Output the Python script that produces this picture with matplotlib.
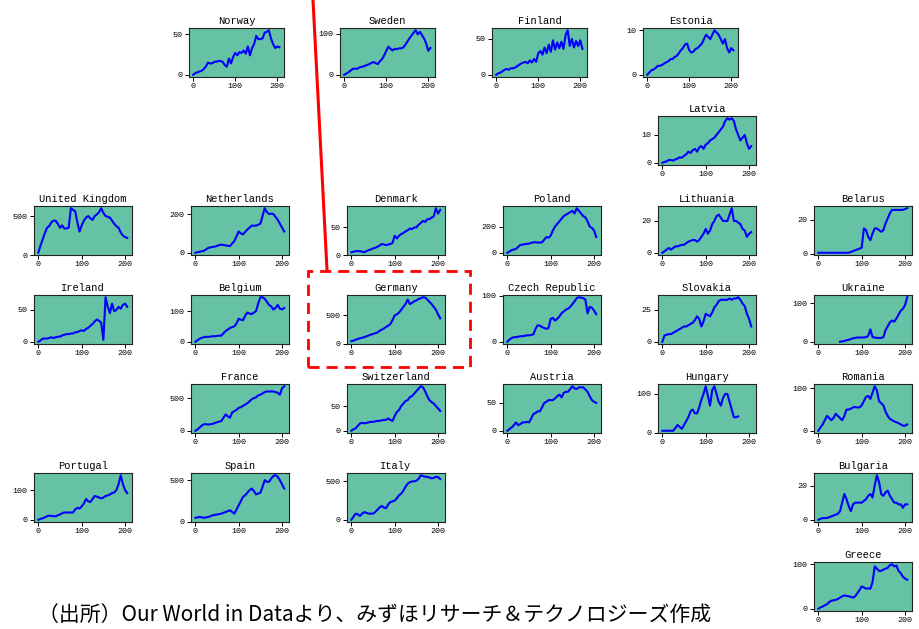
import numpy as np
import matplotlib
matplotlib.use("Agg")
import matplotlib.pyplot as plt
from matplotlib.lines import Line2D
from matplotlib.patches import Rectangle

nan = np.nan

# day index (x axis), sampled every 5 days
days = list(range(0, 206, 5))

norway = [0, 2, 3, 4, 5, 7, 10, 15, 14, 14, 16, 16, 17, 17, 16, 12, 10, 20, 14, 22, 27,
          24, 28, 27, 30, 26, 35, 24, 33, 38, 48, 44, 44, 45, 52, 53, 55, 45, 38, 33, 35, 34]
sweden = [0, 3, 6, 10, 14, 15, 14, 17, 19, 20, 22, 24, 26, 29, 31, 28, 26, 33, 38, 47, 58,
          68, 63, 59, 63, 62, 64, 64, 66, 72, 80, 88, 95, 102, 108, 98, 104, 96, 88, 76, 58, 65]
finland = [0, 2, 3, 5, 7, 8, 7, 9, 9, 10, 12, 14, 16, 17, 18, 16, 20, 17, 22, 18, 30,
           33, 28, 38, 30, 42, 32, 48, 35, 45, 37, 46, 36, 55, 62, 40, 50, 38, 47, 40, 48, 36]
estonia = [0, 0.5, 1, 1.2, 1.5, 2, 2, 2.2, 2.5, 2.8, 3, 3.5, 3.5, 4, 4.2, 4.8, 5.5, 6, 6.8, 7, 5.5,
           5, 5.2, 5.8, 6, 6.5, 7, 8, 9, 8.5, 8, 9, 10, 9.5, 9, 8, 7, 8, 6, 5, 6, 5.5]
latvia = [0, 0.3, 0.5, 1, 1, 0.8, 1.2, 1.5, 2, 1.8, 2.5, 3, 4, 3.5, 4.5, 5, 4, 5.5, 6, 5, 6.5,
          7, 8, 8.5, 9, 10, 11, 12, 13, 15, 16, 15.5, 16, 15, 12, 10, 8, 9, 10, 7, 5, 6]
uk = [30, 120, 200, 280, 350, 370, 420, 440, 440, 400, 350, 380, 340, 340, 350, 600, 580, 560, 420, 300, 380,
      440, 480, 500, 470, 450, 500, 520, 550, 600, 540, 500, 490, 480, 440, 400, 370, 350, 290, 250, 230, 220]
netherlands = [0, 3, 5, 8, 10, 18, 25, 28, 30, 32, 35, 40, 42, 40, 38, 36, 35, 48, 60, 85, 110,
               100, 95, 108, 120, 130, 140, 140, 140, 145, 150, 190, 230, 210, 200, 202, 200, 185, 170, 150, 130, 110]
denmark = [5, 6, 7, 7, 7, 6, 5, 7, 9, 10, 12, 13, 15, 17, 20, 19, 18, 19, 20, 22, 35,
           30, 35, 38, 40, 43, 45, 48, 47, 50, 50, 55, 58, 62, 60, 65, 65, 68, 70, 85, 75, 82]
poland = [0, 10, 20, 25, 30, 45, 60, 62, 65, 68, 70, 75, 80, 80, 78, 78, 80, 100, 120, 115, 130,
          170, 200, 220, 240, 260, 280, 290, 300, 310, 320, 300, 340, 320, 300, 280, 270, 240, 200, 190, 170, 120]
lithuania = [0, 1, 2, 3, 2, 3, 4, 4, 4.5, 5, 5, 6, 7, 7.5, 8, 8, 7, 8, 10, 12, 15,
             12, 14, 18, 20, 23, 24, 22, 20, 20, 20, 24, 28, 20, 20, 19, 18, 15, 14, 10, 12, 13]
belarus = [0.5, 0.5, 0.5, 0.5, 0.5, 0.5, 0.5, 0.5, 0.5, 0.5, 0.5, 0.5, 0.5, 0.5, 0.5, 1, 1.5, 2, 2.5, 3, 3.5,
           15, 14, 10, 8, 12, 15, 15, 14, 13, 14, 18, 21, 24, 26, 26, 26, 26, 26, 26, 26.5, 27]
ireland = [0, 2, 5, 5, 5, 6, 7, 6, 7, 8, 8, 10, 11, 12, 12, 13, 13, 15, 15, 17, 18,
           17, 20, 22, 25, 28, 32, 35, 33, 30, 3, 70, 55, 45, 60, 48, 50, 55, 52, 58, 60, 55]
belgium = [0, 5, 10, 13, 15, 16, 16, 17, 18, 18, 19, 20, 20, 28, 35, 40, 45, 48, 50, 60, 75,
           72, 70, 85, 95, 92, 90, 95, 100, 125, 145, 145, 140, 130, 120, 115, 105, 110, 120, 108, 105, 110]
germany = [50, 60, 75, 90, 100, 110, 120, 135, 150, 165, 175, 190, 200, 230, 250, 270, 300, 320, 350, 420, 500,
           520, 550, 600, 650, 700, 780, 700, 720, 750, 760, 790, 800, 820, 815, 780, 740, 700, 650, 600, 520, 450]
czech = [0, 5, 8, 10, 10, 11, 12, 12, 13, 14, 14, 15, 16, 28, 36, 35, 32, 30, 28, 30, 50,
         52, 46, 50, 55, 62, 66, 70, 72, 76, 82, 88, 95, 97, 96, 95, 92, 62, 76, 74, 68, 60]
slovakia = [0, 5, 5.5, 6, 6, 7, 8, 9, 10, 11, 12, 12, 13, 14, 15, 17, 20, 18, 12, 16, 22,
            21, 20, 23, 27, 29, 32, 33, 33, 33, 33, 34, 33, 34, 34, 35, 33, 30, 28, 22, 18, 12]
ukraine = [nan, nan, nan, nan, nan, nan, nan, nan, nan, nan, 0, 1, 2, 4, 5, 7, 9, 10, 11, 11, 11,
           11, 12, 15, 32, 12, 11, 10, 10, 10, 12, 30, 40, 50, 55, 52, 60, 70, 80, 85, 95, 115]
france = [0, 20, 50, 80, 100, 100, 95, 100, 105, 120, 130, 140, 150, 200, 250, 220, 200, 280, 300, 320, 350,
          360, 380, 400, 420, 450, 480, 500, 510, 540, 550, 570, 590, 600, 600, 600, 600, 590, 580, 550, 650, 680]
switzerland = [0, 3, 5, 10, 15, 16, 15, 16, 17, 18, 18, 19, 20, 20, 21, 22, 22, 25, 22, 20, 30,
               38, 42, 50, 55, 60, 62, 68, 70, 75, 80, 85, 90, 88, 80, 70, 62, 58, 55, 50, 45, 40]
austria = [0, 3, 6, 10, 15, 10, 12, 15, 15, 16, 15, 22, 30, 32, 35, 35, 42, 50, 52, 55, 55,
           55, 58, 62, 65, 60, 68, 70, 70, 75, 80, 76, 75, 78, 78, 78, 74, 70, 62, 55, 52, 50]
hungary = [5, 5, 5, 5, 5, 5, 12, 20, 15, 10, 20, 30, 40, 55, 60, 50, 50, 65, 85, 100, 120,
           95, 70, 110, 120, 100, 80, 70, 90, 100, 100, 80, 60, 40, 40, 42, nan, nan, nan, nan, nan, nan]
romania = [0, 8, 15, 25, 35, 30, 25, 30, 40, 35, 30, 25, 35, 50, 50, 52, 55, 56, 55, 55, 60,
           70, 80, 82, 75, 90, 105, 95, 70, 65, 60, 45, 35, 28, 25, 22, 20, 18, 15, 12, 12, 15]
portugal = [0, 3, 5, 8, 12, 14, 13, 12, 12, 15, 18, 22, 25, 24, 25, 24, 25, 35, 40, 38, 45,
            55, 70, 62, 60, 70, 80, 78, 75, 72, 75, 80, 82, 85, 90, 92, 100, 120, 150, 120, 100, 90]
spain = [50, 55, 60, 55, 50, 55, 60, 70, 80, 85, 90, 95, 100, 110, 120, 130, 140, 120, 100, 150, 200,
         250, 300, 320, 350, 380, 400, 370, 330, 340, 350, 420, 500, 480, 480, 520, 550, 560, 540, 500, 450, 400]
italy = [0, 40, 80, 70, 50, 80, 100, 90, 80, 80, 80, 100, 130, 160, 180, 160, 150, 200, 230, 240, 250,
         280, 320, 340, 380, 430, 470, 490, 500, 500, 510, 530, 580, 570, 560, 560, 550, 540, 545, 560, 555, 530]
bulgaria = [0, 0.5, 1, 1, 1, 1.5, 2, 2.5, 3, 3.5, 5, 10, 15, 12, 8, 5, 9, 10, 10, 10, 10,
            11, 12, 14, 15, 13, 20, 26, 22, 15, 14, 16, 17, 14, 12, 10, 10, 9, 9, 7, 9, 9]
greece = [0, 3, 5, 8, 10, 15, 18, 19, 20, 22, 25, 28, 30, 29, 28, 27, 25, 28, 35, 42, 50,
          48, 45, 46, 45, 60, 95, 90, 85, 85, 88, 90, 92, 98, 100, 95, 97, 85, 80, 72, 68, 65]

# (name, series, y tick values, grid row, grid col)
panels = [
    ("Norway", norway, [0, 50], 0, 1),
    ("Sweden", sweden, [0, 100], 0, 2),
    ("Finland", finland, [0, 50], 0, 3),
    ("Estonia", estonia, [0, 10], 0, 4),
    ("Latvia", latvia, [0, 10], 1, 4),
    ("United Kingdom", uk, [0, 500], 2, 0),
    ("Netherlands", netherlands, [0, 200], 2, 1),
    ("Denmark", denmark, [0, 50], 2, 2),
    ("Poland", poland, [0, 200], 2, 3),
    ("Lithuania", lithuania, [0, 20], 2, 4),
    ("Belarus", belarus, [0, 20], 2, 5),
    ("Ireland", ireland, [0, 50], 3, 0),
    ("Belgium", belgium, [0, 100], 3, 1),
    ("Germany", germany, [0, 500], 3, 2),
    ("Czech Republic", czech, [0, 100], 3, 3),
    ("Slovakia", slovakia, [0, 25], 3, 4),
    ("Ukraine", ukraine, [0, 100], 3, 5),
    ("France", france, [0, 500], 4, 1),
    ("Switzerland", switzerland, [0, 50], 4, 2),
    ("Austria", austria, [0, 50], 4, 3),
    ("Hungary", hungary, [0, 100], 4, 4),
    ("Romania", romania, [0, 100], 4, 5),
    ("Portugal", portugal, [0, 100], 5, 0),
    ("Spain", spain, [0, 500], 5, 1),
    ("Italy", italy, [0, 500], 5, 2),
    ("Bulgaria", bulgaria, [0, 20], 5, 5),
    ("Greece", greece, [0, 100], 6, 5),
]

W, H = 919, 629
row_top = [28, 116, 206, 295, 384, 473, 562]
col_left = [34, 191, 347, 503, 658, 814]
col_left_row0 = [34, 189, 340, 492, 643, 814]
ax_h = 49

fig = plt.figure(figsize=(W / 100, H / 100), dpi=100)
fig.patch.set_facecolor("white")

for name, vals, yt, r, c in panels:
    if r == 0:
        left, w = col_left_row0[c], 95
    else:
        left, w = col_left[c], 98
    ax = fig.add_axes([left / W, 1 - (row_top[r] + ax_h) / H, w / W, ax_h / H])
    ax.set_facecolor("#66c2a5")
    ax.plot(days, vals, color="blue", lw=1.5)
    ax.set_xlim(-10, 216)
    ax.set_xticks([0, 100, 200])
    ax.set_yticks(yt)
    ax.tick_params(labelsize=6, length=3, width=0.7, pad=1.5)
    for lab in ax.get_xticklabels() + ax.get_yticklabels():
        lab.set_family("Liberation Mono")
    for s in ax.spines.values():
        s.set_linewidth(0.8)
        s.set_color("#222222")
    ax.set_title(name, fontsize=7.5, family="Liberation Mono", pad=3)

# red pointer line and dashed box around Germany
fig.add_artist(Line2D([313 / W, 327 / W], [1, 1 - 270 / H], color="red", lw=2.2,
                      transform=fig.transFigure))
fig.add_artist(Rectangle((308 / W, 1 - 367 / H), (470 - 308) / W, (367 - 271) / H,
                         fill=False, edgecolor="red", lw=2, linestyle=(0, (4, 2.5)),
                         transform=fig.transFigure))

fig.text(38 / W, 1 - 615 / H, "（出所）Our World in Dataより、みずほリサーチ＆テクノロジーズ作成",
         fontsize=15, family=["Noto Sans CJK JP", "DejaVu Sans"], va="center", ha="left")

fig.savefig("out.png", dpi=100)
